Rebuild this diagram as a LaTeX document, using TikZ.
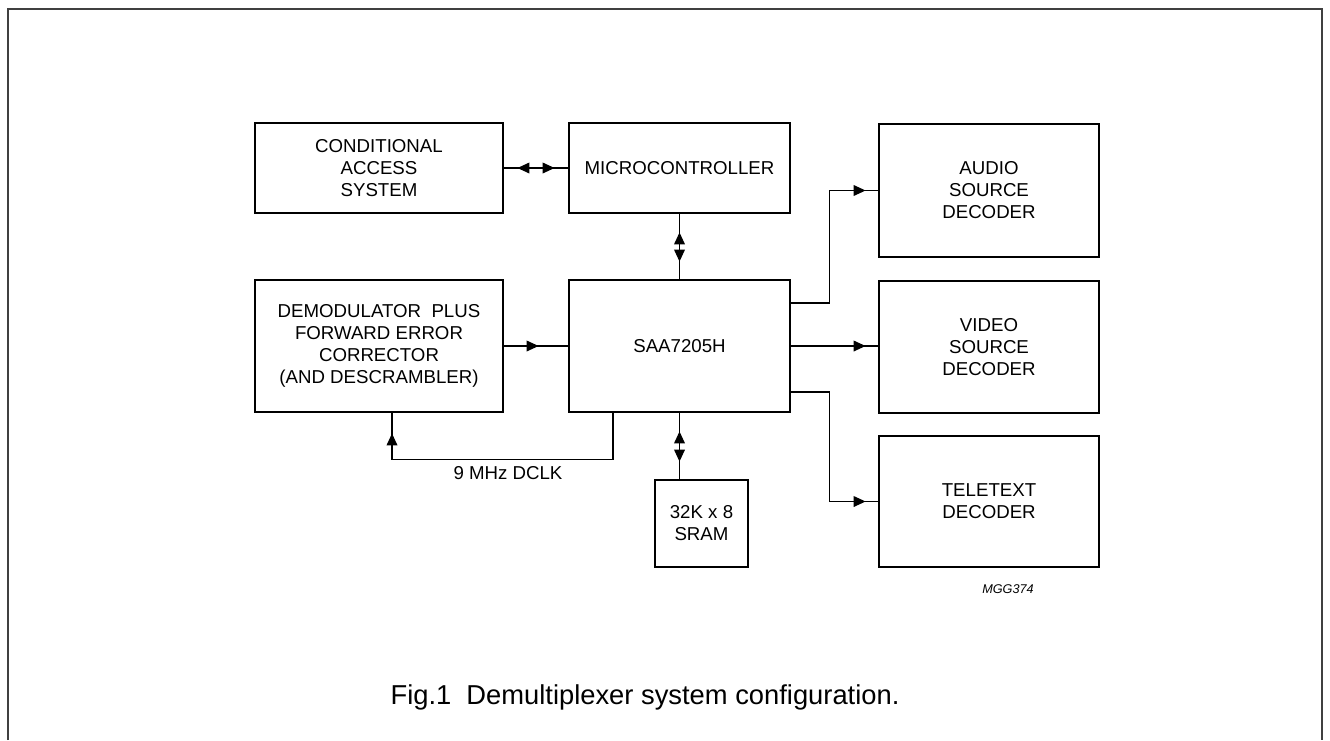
\documentclass[tikz,border=0pt]{standalone}
\usepackage{fontspec}
\setmainfont{Liberation Sans}
\usetikzlibrary{arrows.meta,decorations.markings,calc}
\tikzset{
  box/.style={draw, line width=2.1pt, align=center, inner sep=0pt,
    font=\fontsize{14}{16.5}\selectfont},
  conn/.style={line width=1.1pt},
  tipfwd/.style={postaction={decorate,decoration={markings,
    mark=at position #1 with {\arrow{Triangle[length=9pt,width=8pt]}}}}},
  tipback/.style={postaction={decorate,decoration={markings,
    mark=at position #1 with {\arrowreversed{Triangle[length=9pt,width=8pt]}}}}},
  lbl/.style={inner sep=0pt, font=\fontsize{14}{16.5}\selectfont},
}
\begin{document}
\begin{tikzpicture}[x=0.75pt,y=-0.75pt]
\useasboundingbox (0,0) rectangle (1330,740);
% frame
\draw[line width=1.5pt, black!75] (7.5,740) -- (7.5,8.5) -- (1322,8.5) -- (1322,740);

% boxes
\node[box, minimum width=186pt, minimum height=67.5pt] (ca) at (379,168) {CONDITIONAL\\ACCESS\\SYSTEM};
\node[box, minimum width=165.75pt, minimum height=67.5pt] (micro) at (679.5,168) {MICROCONTROLLER};
\node[box, minimum width=165pt, minimum height=99.75pt] (audio) at (989,190.5) {AUDIO\\SOURCE\\DECODER};
\node[box, minimum width=186pt, minimum height=99pt] (demod) at (379,346) {DEMODULATOR\ \ PLUS\\FORWARD ERROR\\CORRECTOR\\(AND DESCRAMBLER)};
\node[box, minimum width=165.75pt, minimum height=99pt] (saa) at (679.5,346) {SAA7205H};
\node[box, minimum width=165pt, minimum height=99pt] (video) at (989,347) {VIDEO\\SOURCE\\DECODER};
\node[box, minimum width=165pt, minimum height=98.25pt] (tele) at (989,501.5) {TELETEXT\\DECODER};
\node[box, minimum width=69.75pt, minimum height=65.25pt] (sram) at (701.5,523.5) {32K x 8\\SRAM};

% connectors
\draw[conn, tipback=9.75pt, tipfwd=-9.75pt] (ca.east) -- (micro.west);
\draw[conn, tipback=13.5pt, tipfwd=-12.75pt] (micro.south) -- (saa.north);
\draw[conn, tipback=13.5pt, tipfwd=-12.75pt] (saa.south) -- (saa.south |- sram.north);
\draw[conn, tipfwd=-21.75pt] (demod.east) -- (saa.west);
\draw[conn, tipfwd=-9pt] ($(saa.east)+(0,-43)$) -- ++(38,0) |- (audio.west);
\draw[conn, tipfwd=-9pt] (saa.east) -- (saa.east -| video.west);
\draw[conn, tipfwd=-9pt] ($(saa.east)+(0,46)$) -- ++(38,0) |- (tele.west);
\draw[conn, tipfwd=-15pt] ($(saa.south)+(-66.5,0)$) -- ++(0,46) -| ($(demod.south)+(13,0)$);

% labels
\node[lbl] (dclk) at (508,473) {9 MHz DCLK};
\node[inner sep=0pt, font=\itshape\fontsize{9.5}{11}\selectfont] (code) at (1008,589) {MGG374};
\node[inner sep=0pt, font=\fontsize{20.5}{23}\selectfont] (cap) at (645,697) {Fig.1\ \ Demultiplexer system configuration.};
\end{tikzpicture}
\end{document}
